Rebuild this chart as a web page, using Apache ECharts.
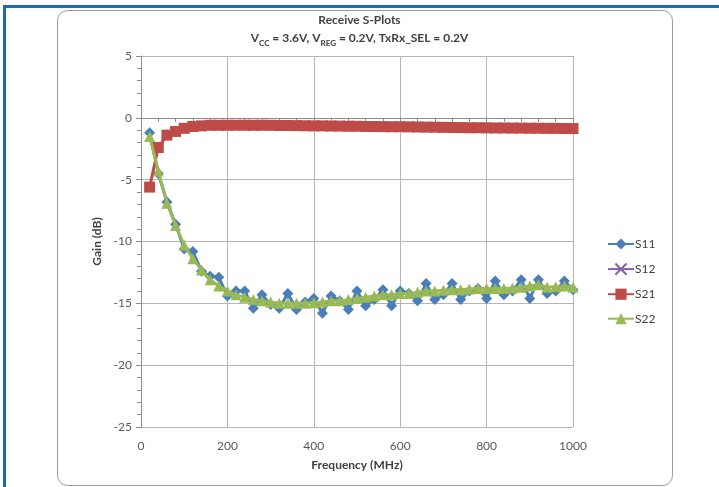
<!DOCTYPE html>
<html>
<head>
<meta charset="utf-8">
<title>Receive S-Plots</title>
<script src="https://cdn.jsdelivr.net/npm/echarts@6/dist/echarts.min.js"></script>
<style>
  html, body { margin: 0; padding: 0; background: #fff; }
  #chart-container { width: 719px; height: 487px; }
</style>
</head>
<body>
<div id="chart-container"></div>
<script>
// frequency points (MHz)
var freqs = [20, 40, 60, 80, 100, 120, 140, 160, 180, 200,
  220, 240, 260, 280, 300, 320, 340, 360, 380, 400,
  420, 440, 460, 480, 500, 520, 540, 560, 580, 600,
  620, 640, 660, 680, 700, 720, 740, 760, 780, 800,
  820, 840, 860, 880, 900, 920, 940, 960, 980, 1000];

var s11 = [-1.2, -4.5, -6.8, -8.6, -10.6, -10.8, -12.4, -12.8, -12.9, -14.4,
  -14.0, -14.0, -15.4, -14.3, -15.1, -15.4, -14.2, -15.5, -14.9, -14.6,
  -15.8, -14.4, -14.8, -15.5, -14.0, -15.2, -14.7, -13.9, -15.2, -14.0,
  -14.2, -14.8, -13.4, -14.7, -14.3, -13.4, -14.7, -14.0, -13.8, -14.6,
  -13.2, -14.3, -14.0, -13.1, -14.6, -13.1, -14.2, -14.0, -13.2, -13.9];

var s12 = [];

var s21 = [-5.6, -2.4, -1.4, -1.1, -0.85, -0.7, -0.65, -0.6, -0.6, -0.6,
  -0.6, -0.6, -0.6, -0.6, -0.6, -0.62, -0.62, -0.63, -0.64, -0.65,
  -0.65, -0.66, -0.67, -0.68, -0.68, -0.7, -0.7, -0.71, -0.72, -0.72,
  -0.73, -0.74, -0.75, -0.76, -0.77, -0.78, -0.79, -0.8, -0.8, -0.81,
  -0.82, -0.82, -0.83, -0.83, -0.84, -0.84, -0.85, -0.85, -0.86, -0.87];

var s22 = [-1.5, -4.3, -6.9, -8.7, -10.3, -11.4, -12.3, -13.1, -13.6, -14.0,
  -14.3, -14.5, -14.7, -14.8, -14.9, -15.0, -15.0, -15.0, -15.0, -14.95,
  -14.9, -14.8, -14.8, -14.7, -14.6, -14.5, -14.4, -14.3, -14.3, -14.2,
  -14.2, -14.1, -14.0, -14.0, -13.95, -13.9, -13.9, -13.85, -13.8, -13.8,
  -13.8, -13.8, -13.75, -13.7, -13.6, -13.5, -13.7, -13.65, -13.6, -13.7];

var xTicks = [0, 200, 400, 600, 800, 1000];
var yTicks = [-25, -20, -15, -10, -5, 0, 5];

function pairs(vals) {
  return vals.map(function (v, i) { return [freqs[i], v]; });
}

var font = 'Lato, "Open Sans", sans-serif';
var chart = echarts.init(document.getElementById('chart-container'), null, { renderer: 'canvas' });

var option = {
  backgroundColor: '#fff',
  animation: false,
  graphic: [
    { type: 'rect', shape: { x: 57.5, y: 10.5, width: 615, height: 475, r: 10 },
      style: { fill: '#fff', stroke: '#9a9a9a', lineWidth: 1 }, z: -10 },
    { type: 'rect', shape: { x: 3, y: 5, width: 716, height: 3 }, style: { fill: '#1a6db3' }, z: 10 },
    { type: 'rect', shape: { x: 3, y: 5, width: 3, height: 482 }, style: { fill: '#1a6db3' }, z: 10 }
  ],
  title: {
    left: 'center',
    top: 6,
    text: '{b|Receive S-Plots}\n{b|V}{s|CC}{b| = 3.6V, V}{s|REG}{b| = 0.2V, TxRx_SEL = 0.2V}',
    textStyle: {
      rich: {
        b: { fontFamily: font, fontSize: 12, fontWeight: 'bold', color: '#404040', lineHeight: 18 },
        s: { fontFamily: font, fontSize: 8, fontWeight: 'bold', color: '#404040', lineHeight: 11, verticalAlign: 'bottom' }
      }
    }
  },
  legend: {
    orient: 'vertical',
    left: 602,
    top: 233,
    itemGap: 12.5,
    itemWidth: 26,
    itemHeight: 14,
    data: ['S11', 'S12', 'S21', 'S22'],
    textStyle: { fontFamily: font, fontSize: 12, color: '#404040', padding: [0, 0, 0, -4] }
  },
  grid: { left: 141, right: 146, top: 56, bottom: 60 },
  xAxis: {
    type: 'value',
    min: 0,
    max: 1000,
    interval: 200,
    name: 'Frequency (MHz)',
    nameLocation: 'middle',
    nameGap: 32,
    nameTextStyle: { fontFamily: font, fontSize: 12, fontWeight: 'bold', color: '#404040' },
    axisLine: { show: true, lineStyle: { color: '#8c8c8c', width: 1 } },
    axisTick: { show: true, length: 5, lineStyle: { color: '#8c8c8c' } },
    minorTick: { show: true, splitNumber: 5, length: 4, lineStyle: { color: '#8c8c8c' } },
    axisLabel: { margin: 13, fontFamily: font, fontSize: 12, color: '#595959',
      formatter: function (v) { return xTicks.indexOf(v) >= 0 ? String(v) : ''; } },
    splitLine: { show: true, lineStyle: { color: '#b5b5b5', width: 1 } }
  },
  yAxis: {
    type: 'value',
    min: -25,
    max: 5,
    interval: 5,
    name: 'Gain (dB)',
    nameLocation: 'middle',
    nameGap: 37,
    nameTextStyle: { fontFamily: font, fontSize: 12, fontWeight: 'bold', color: '#404040' },
    axisLine: { show: true, lineStyle: { color: '#8c8c8c', width: 1 } },
    axisTick: { show: true, length: 5, lineStyle: { color: '#8c8c8c' } },
    minorTick: { show: true, splitNumber: 5, length: 4, lineStyle: { color: '#8c8c8c' } },
    axisLabel: { margin: 9, fontFamily: font, fontSize: 12, color: '#595959',
      formatter: function (v) { return yTicks.indexOf(v) >= 0 ? String(v) : ''; } },
    splitLine: { show: true, lineStyle: { color: '#b5b5b5', width: 1 } }
  },
  series: [
    {
      name: 'S11', type: 'line', data: pairs(s11),
      symbol: 'diamond', symbolSize: 11,
      itemStyle: { color: '#4a7ebb' },
      lineStyle: { color: '#4a7ebb', width: 3 }, z: 2
    },
    {
      name: 'S12', type: 'line', data: s12,
      symbol: 'path://M0,0L10,10M10,0L0,10', symbolSize: 9,
      itemStyle: { color: '#8064a2', borderColor: '#8064a2', borderWidth: 1.5 },
      lineStyle: { color: '#8064a2', width: 3 }, z: 3
    },
    {
      name: 'S21', type: 'line', data: pairs(s21),
      symbol: 'rect', symbolSize: 11,
      itemStyle: { color: '#be4b48' },
      lineStyle: { color: '#be4b48', width: 3 }, z: 4
    },
    {
      name: 'S22', type: 'line', data: pairs(s22),
      symbol: 'triangle', symbolSize: 11,
      itemStyle: { color: '#98b954' },
      lineStyle: { color: '#98b954', width: 3 }, z: 5
    }
  ]
};

chart.setOption(option);
</script>
</body>
</html>
